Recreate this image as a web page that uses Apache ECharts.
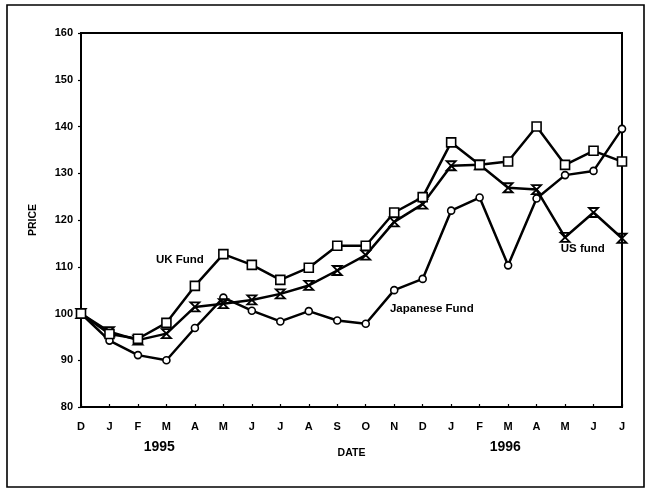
<!DOCTYPE html>
<html>
<head>
<meta charset="utf-8">
<script src="https://cdn.jsdelivr.net/npm/echarts@6/dist/echarts.min.js"></script>
<style>
  html, body { margin: 0; padding: 0; background: #fff; }
  #chart { width: 648px; height: 490px; }
</style>
</head>
<body>
<div id="chart"></div>
<script>
// Monthly fund prices, Dec 1994 to Jul 1996 (index: Dec 1994 = 100)
const months = ['D','J','F','M','A','M','J','J','A','S','O','N','D','J','F','M','A','M','J','J'];
const ukFund = [100, 95.6, 94.6, 98.0, 105.9, 112.7, 110.4, 107.2, 109.8, 114.5, 114.5, 121.6, 124.9, 136.6, 131.8, 132.5, 140.0, 131.8, 134.8, 132.5];
const usFund = [100, 96.1, 94.3, 95.7, 101.4, 102.1, 102.9, 104.2, 106.0, 109.2, 112.5, 119.6, 123.4, 131.6, 131.8, 126.9, 126.5, 116.3, 121.6, 116.1];
const japaneseFund = [100, 94.2, 91.1, 90.0, 96.9, 103.4, 100.6, 98.3, 100.5, 98.5, 97.8, 105.0, 107.4, 122.0, 124.8, 110.3, 124.6, 129.6, 130.5, 139.5];
const yTicks = [80, 90, 100, 110, 120, 130, 140, 150, 160];
const yearLabels = [{ text: '1995', at: 2.75 }, { text: '1996', at: 14.9 }];
const seriesNotes = [
  { text: 'UK Fund', x: 2.63, y: 111.4 },
  { text: 'Japanese Fund', x: 10.85, y: 101.0 },
  { text: 'US fund', x: 16.85, y: 113.8 }
];

const FONT = '"Liberation Sans", Arial, sans-serif';
const toPairs = arr => arr.map((v, i) => [i, v]);

const chart = echarts.init(document.getElementById('chart'), null, { renderer: 'canvas' });

const lineBase = {
  type: 'line',
  lineStyle: { color: '#000', width: 2.5 },
  itemStyle: { color: '#fff', borderColor: '#000', borderWidth: 1.6 },
  z: 3,
  animation: false
};

chart.setOption({
  backgroundColor: '#fff',
  animation: false,
  grid: {
    left: 81, right: 26, top: 33, bottom: 83,
    show: true, borderColor: '#000', borderWidth: 2, backgroundColor: 'transparent'
  },
  xAxis: {
    type: 'value', min: 0, max: months.length - 1, interval: 1,
    name: 'DATE', nameLocation: 'middle', nameGap: 41,
    nameTextStyle: { fontFamily: FONT, fontWeight: 'bold', fontSize: 10.5, color: '#000' },
    axisLine: { lineStyle: { color: '#000', width: 2 } },
    axisTick: { inside: true, length: 3, lineStyle: { color: '#000', width: 1.2 } },
    splitLine: { show: false },
    axisLabel: {
      margin: 14, color: '#000', fontFamily: FONT, fontWeight: 'bold', fontSize: 11,
      formatter: v => months[v] || ''
    }
  },
  yAxis: {
    type: 'value', min: yTicks[0], max: yTicks[yTicks.length - 1], interval: 10,
    name: 'PRICE', nameLocation: 'middle', nameGap: 42, nameRotate: 90,
    nameTextStyle: { fontFamily: FONT, fontWeight: 'bold', fontSize: 10.5, color: '#000' },
    axisLine: { show: true, lineStyle: { color: '#000', width: 2 } },
    axisTick: { show: true, length: 3, lineStyle: { color: '#000', width: 1.2 } },
    splitLine: { show: false },
    axisLabel: { margin: 8, color: '#000', fontFamily: FONT, fontWeight: 'bold', fontSize: 11 }
  },
  series: [
    Object.assign({}, lineBase, {
      name: 'Japanese Fund', data: toPairs(japaneseFund),
      symbol: 'circle', symbolSize: 7
    }),
    Object.assign({}, lineBase, {
      name: 'US fund', data: toPairs(usFund),
      symbol: 'path://M0,0 L10,0 L0,10 L10,10 Z', symbolSize: [9, 9],
      itemStyle: { color: 'rgba(0,0,0,0)', borderColor: '#000', borderWidth: 1.8 }
    }),
    Object.assign({}, lineBase, {
      name: 'UK Fund', data: toPairs(ukFund),
      symbol: 'rect', symbolSize: 9
    })
  ]
});

// Outer frame, year captions and series notes placed through the chart's own axes
const axisY = chart.convertToPixel({ gridIndex: 0 }, [0, yTicks[0]])[1];
const graphics = [
  {
    type: 'rect', silent: true, z: 0,
    shape: { x: 7, y: 5, width: 637, height: 482 },
    style: { fill: 'none', stroke: '#000', lineWidth: 1.6 }
  }
];
yearLabels.forEach(y => {
  const px = chart.convertToPixel({ gridIndex: 0 }, [y.at, yTicks[0]])[0];
  graphics.push({
    type: 'text', silent: true, z: 10,
    x: px, y: axisY + 40,
    style: {
      text: y.text, fill: '#000', font: 'bold 14px ' + FONT,
      align: 'center', verticalAlign: 'middle'
    }
  });
});
seriesNotes.forEach(n => {
  const p = chart.convertToPixel({ gridIndex: 0 }, [n.x, n.y]);
  graphics.push({
    type: 'text', silent: true, z: 10,
    x: p[0], y: p[1],
    style: {
      text: n.text, fill: '#000', font: 'bold 11.5px ' + FONT,
      align: 'left', verticalAlign: 'middle'
    }
  });
});
chart.setOption({ graphic: graphics });
</script>
</body>
</html>
